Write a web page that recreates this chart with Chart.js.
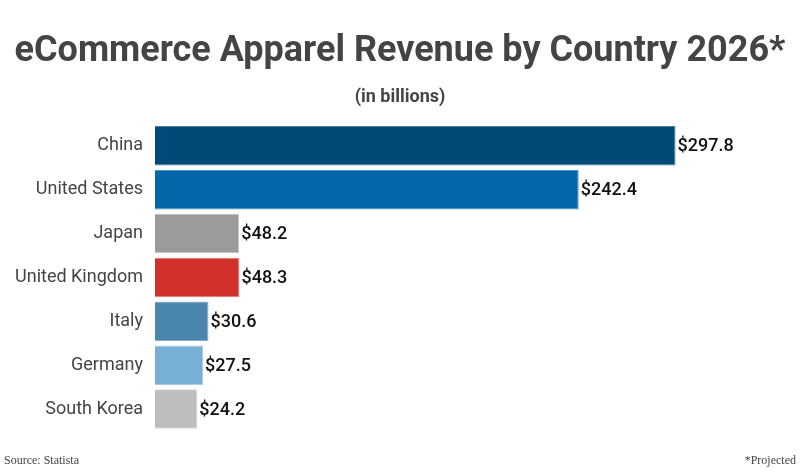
<!DOCTYPE html>
<html>
<head>
<meta charset="utf-8">
<script src="https://cdn.jsdelivr.net/npm/chart.js@4/dist/chart.umd.min.js"></script>
<style>
  html, body { margin: 0; padding: 0; background: #fff; }
  canvas { display: block; }
</style>
</head>
<body>
<canvas id="apparel" width="800" height="473"></canvas>
<script>
const countries = ["China", "United States", "Japan", "United Kingdom", "Italy", "Germany", "South Korea"];
const revenue = [297.8, 242.4, 48.2, 48.3, 30.6, 27.5, 24.2];
const barColors = ["#004a78", "#0467a9", "#9b9b9b", "#d2302a", "#4a85ae", "#78afd5", "#bdbdbd"];
const borderColors = ["#4d7da0", "#4d95c4", "#c4c4c4", "#e07a76", "#86abc7", "#a8cbe4", "#d6d6d6"];

const ctx = document.getElementById("apparel");

// dollar labels at the end of each bar + footer notes
const valueLabels = {
  id: "valueLabels",
  afterDatasetsDraw(chart) {
    const c = chart.ctx;
    const meta = chart.getDatasetMeta(0);
    c.save();
    c.font = "500 18px Roboto";
    c.fillStyle = "#111";
    c.textBaseline = "middle";
    c.textAlign = "left";
    meta.data.forEach((bar, i) => {
      c.fillText("$" + revenue[i].toFixed(1), bar.x + 2, bar.y + 1);
    });
    c.font = "12px 'Liberation Serif'";
    c.fillStyle = "#444";
    c.fillText("Source: Statista", 4, 461);
    c.textAlign = "right";
    c.fillText("*Projected", 796, 461);
    c.restore();
  }
};

new Chart(ctx, {
  type: "bar",
  data: {
    labels: countries,
    datasets: [
      {
        data: revenue,
        backgroundColor: barColors,
        borderColor: borderColors,
        borderWidth: 1,
        barPercentage: 0.9,
        categoryPercentage: 1,
      },
    ],
  },
  options: {
    indexAxis: "y",
    responsive: false,
    animation: false,
    maintainAspectRatio: false,
    layout: { padding: { left: 0, right: 0, top: 0, bottom: 42 } },
    plugins: {
      legend: { display: false },
      tooltip: { enabled: false },
      title: {
        display: true,
        text: "eCommerce Apparel Revenue by Country 2026*",
        color: "#444",
        font: { family: "Roboto", size: 36, weight: "bold" },
        padding: { top: 30, bottom: 13 },
      },
      subtitle: {
        display: true,
        text: "(in billions)",
        color: "#444",
        font: { family: "Roboto", size: 18, weight: "bold" },
        padding: { top: 0, bottom: 16 },
      },
    },
    scales: {
      x: {
        display: false,
        min: 0,
        max: 369,
      },
      y: {
        grid: { display: false },
        border: { display: false },
        ticks: {
          color: "#444",
          padding: 4,
          font: { family: "Roboto", size: 18 },
        },
        afterFit(scale) {
          scale.width = 155;
        },
      },
    },
  },
  plugins: [valueLabels],
});
</script>
</body>
</html>
